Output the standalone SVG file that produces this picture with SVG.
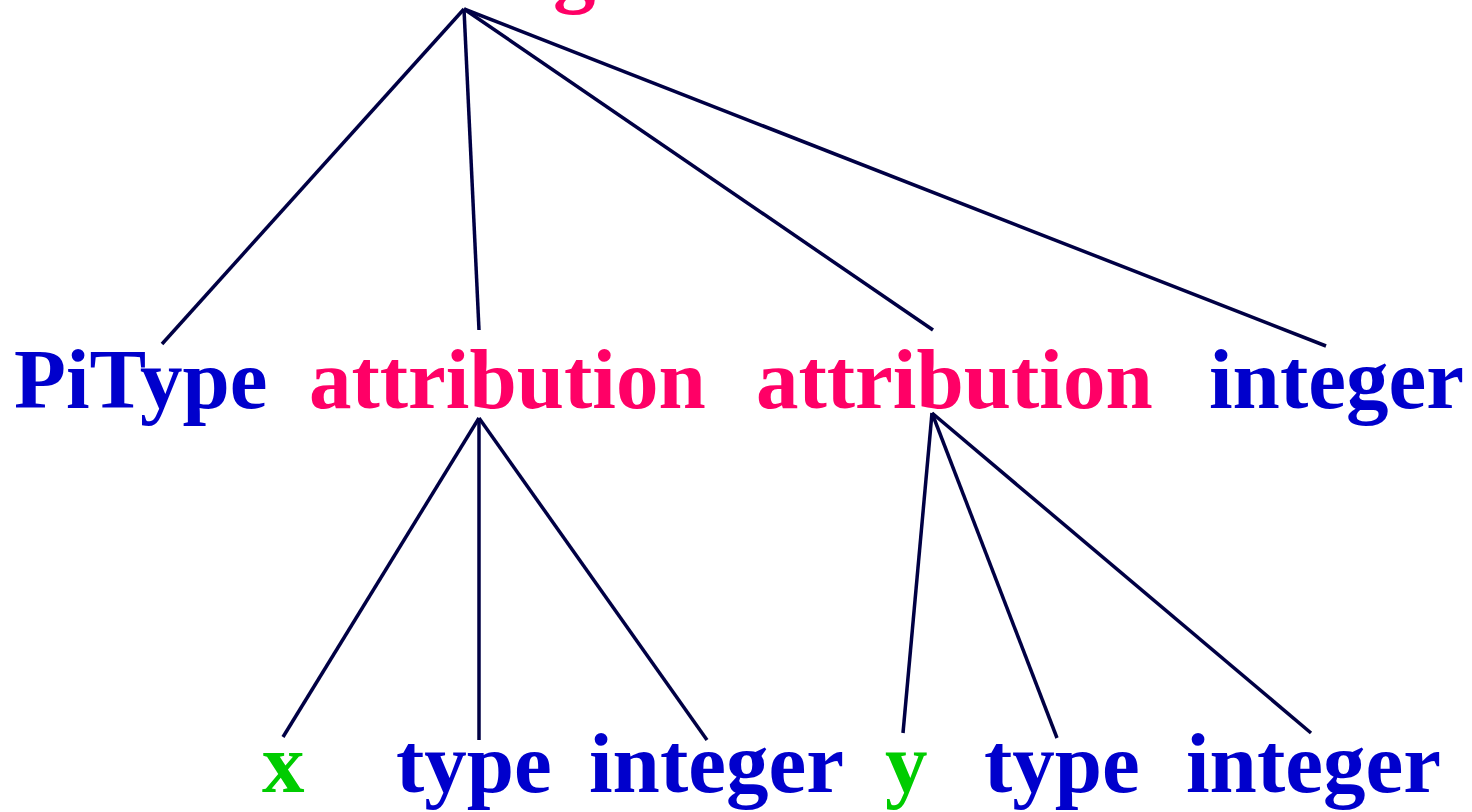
<svg xmlns="http://www.w3.org/2000/svg" width="1472" height="812" viewBox="0 0 1472 812">
  <style>
    text { font-family: "Liberation Serif", "Times New Roman", serif; font-weight: bold; font-size: 85px; }
    .nt { fill: #ff0066; }
    .kw { fill: #0000cc; }
    .id { fill: #00cc00; }
    .edge { stroke: #000044; stroke-width: 3.5; fill: none; stroke-linecap: butt; }
  </style>
  <rect width="1472" height="812" fill="#ffffff"/>

  <!-- tree edges -->
  <g id="connectors">
    <line class="edge" x1="464" y1="9" x2="162" y2="344"/>
    <line class="edge" x1="464" y1="9" x2="479" y2="330"/>
    <line class="edge" x1="464" y1="9" x2="933" y2="330"/>
    <line class="edge" x1="464" y1="9" x2="1326" y2="346"/>
    <line class="edge" x1="479" y1="418" x2="283" y2="737"/>
    <line class="edge" x1="479" y1="418" x2="479" y2="740"/>
    <line class="edge" x1="479" y1="418" x2="707" y2="740"/>
    <line class="edge" x1="932" y1="413" x2="903" y2="733"/>
    <line class="edge" x1="932" y1="413" x2="1057" y2="738"/>
    <line class="edge" x1="932" y1="413" x2="1311" y2="733"/>
  </g>

  <!-- root label, mostly above the top edge -->
  <g id="root"><text class="nt" x="553" y="-3">g</text></g>

  <g id="pitype"><text class="kw" x="14" y="408">PiType</text></g>
  <g id="attribution1"><text class="nt" x="309" y="408">attribution</text></g>
  <g id="attribution2"><text class="nt" x="756" y="408">attribution</text></g>
  <g id="integer0"><text class="kw" x="1209" y="408">integer</text></g>

  <g id="x"><text class="id" x="262" y="792">x</text></g>
  <g id="type1"><text class="kw" x="396" y="792">type</text></g>
  <g id="integer1"><text class="kw" x="589" y="792">integer</text></g>
  <g id="y"><text class="id" x="885" y="792">y</text></g>
  <g id="type2"><text class="kw" x="984" y="792">type</text></g>
  <g id="integer2"><text class="kw" x="1186" y="792">integer</text></g>
</svg>
